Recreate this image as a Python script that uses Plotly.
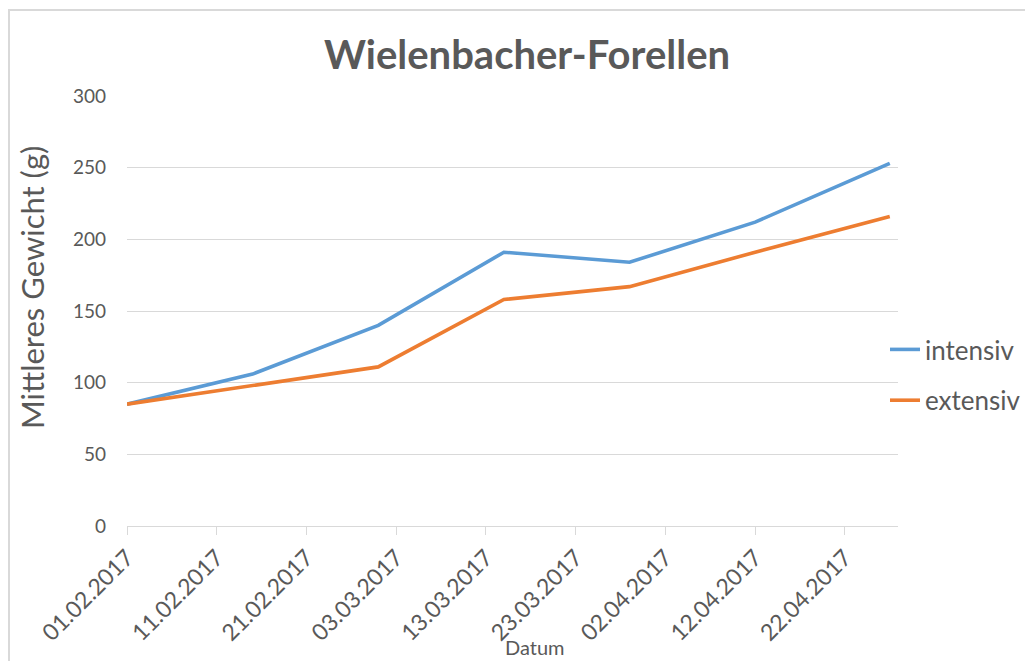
import plotly.graph_objects as go

dates = ["2017-02-01", "2017-02-15", "2017-03-01", "2017-03-15",
         "2017-03-29", "2017-04-12", "2017-04-27"]
intensiv = [85, 106, 140, 191, 184, 212, 253]
extensiv = [85, 98, 111, 158, 167, 191, 216]

OFF = 8  # page body margin
W, H = 1025, 653
L, R, T, B = 127 - OFF, 135, 96 - OFF, 143 - OFF
PW, PH = W - L - R, H - T - B
FONT = "Lato"
GREY = "#595959"


def px(xr):  # reference pixel x -> paper x
    return (xr - OFF - L) / PW


def py(yr):  # reference pixel y -> paper y
    return (H - B - (yr - OFF)) / PH


fig = go.Figure()
fig.add_trace(go.Scatter(x=dates, y=intensiv, mode="lines", name="intensiv",
                         legendgroup="a",
                         line=dict(color="#5B9BD5", width=3.6)))
fig.add_trace(go.Scatter(x=dates, y=extensiv, mode="lines", name="extensiv",
                         legendgroup="b",
                         line=dict(color="#ED7D31", width=3.6)))

fig.update_layout(
    width=W, height=H,
    margin=dict(l=L, r=R, t=T, b=B, autoexpand=False),
    paper_bgcolor="white", plot_bgcolor="white",
    font=dict(family=FONT, color=GREY),
    title=dict(text="<b>Wielenbacher-Forellen</b>", font=dict(size=40, color=GREY, family=FONT),
               x=(527 - OFF) / W, xanchor="center", xref="container",
               y=1 - (55 - OFF) / H, yanchor="middle", yref="container"),
    legend=dict(x=px(885), xanchor="left", y=py(375), yanchor="middle",
                font=dict(size=26, color=GREY, family=FONT),
                tracegroupgap=14, bgcolor="rgba(0,0,0,0)"),
    xaxis=dict(type="date", range=["2017-02-01", "2017-04-27 22:00"],
               tick0="2017-02-01", dtick=10 * 86400000, tickformat="%d.%m.%Y",
               tickangle=-45, tickfont=dict(size=23, color=GREY, family=FONT),
               showgrid=False, zeroline=False,
               showline=True, linecolor="#D9D9D9", linewidth=1,
               ticks="outside", ticklen=8, tickcolor="#D9D9D9"),
    yaxis=dict(range=[0, 300], dtick=50, tickfont=dict(size=19, color=GREY, family=FONT),
               showgrid=True, gridcolor="#D9D9D9", gridwidth=1,
               zeroline=False, showline=False, ticks="", ticklabelstandoff=20),
    showlegend=True,
)

fig.add_annotation(text="Mittleres Gewicht (g)", xref="paper", yref="paper",
                   x=px(32), y=py(288), xanchor="center", yanchor="middle",
                   showarrow=False, textangle=-90,
                   font=dict(size=31, color=GREY, family=FONT))
fig.add_annotation(text="Datum", xref="paper", yref="paper",
                   x=px(535), y=py(647), xanchor="center", yanchor="middle",
                   showarrow=False,
                   font=dict(size=20, color=GREY, family=FONT))

# chart-area border (Excel frame)
fig.add_shape(type="rect", xref="paper", yref="paper",
              x0=px(9), x1=px(1045), y0=py(675), y1=py(10),
              line=dict(color="#D9D9D9", width=2), layer="below")

fig.write_html("out.html")
